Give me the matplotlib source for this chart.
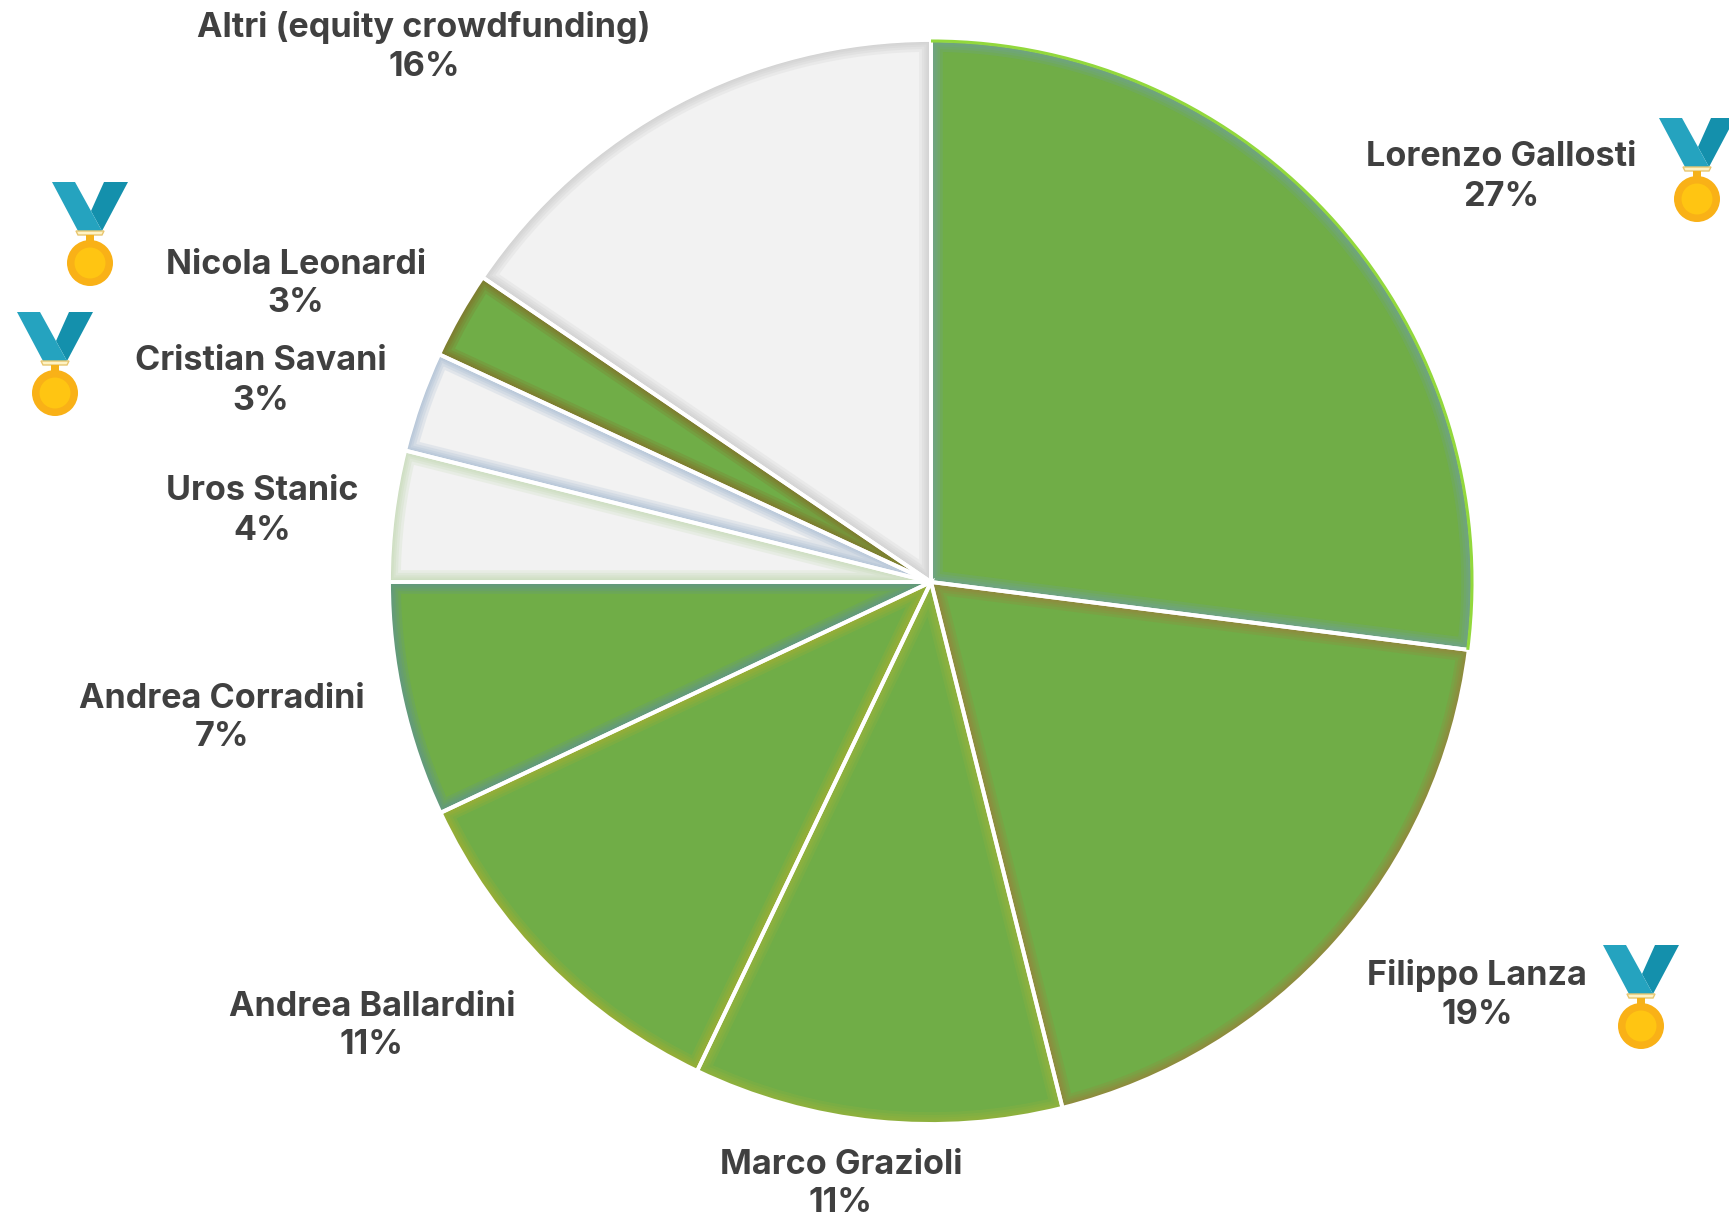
"""Shareholder pie with medal markers, laid out in reference pixel coordinates."""

import matplotlib

matplotlib.use("Agg")
import matplotlib.pyplot as plt
from matplotlib.patches import Arc, Circle, Polygon, Wedge

WIDTH, HEIGHT = 1729, 1220

NAMES = [
    "Lorenzo Gallosti",
    "Filippo Lanza",
    "Marco Grazioli",
    "Andrea Ballardini",
    "Andrea Corradini",
    "Uros Stanic",
    "Cristian Savani",
    "Nicola Leonardi",
    "Altri (equity crowdfunding)",
]
# slice sizes as measured from the angles, the printed labels round them
SHARES = [27.0, 19.1, 11.0, 10.9, 7.0, 3.9, 3.0, 2.6, 15.5]
PERCENT_LABELS = ["27%", "19%", "11%", "11%", "7%", "4%", "3%", "3%", "16%"]
FILLS = ["#70AD47", "#70AD47", "#70AD47", "#70AD47", "#70AD47",
         "#F2F2F2", "#F2F2F2", "#70AD47", "#F2F2F2"]
GLOWS = ["#6F9FB5", "#A8743A", "#A9B53A", "#B5B02E", "#5B8FA8",
         "#B5D3A0", "#8FAAC8", "#8A5A20", "#BEBEBE"]
LABEL_X = [1501, 1477, 841, 372, 222, 262, 261, 296, 424]
LABEL_Y = [177, 995, 1184, 1026, 718, 511, 381, 284, 47]

# top-left corner of each medal ribbon
MEDALS = [(52, 182), (17, 312), (1659, 118), (1603, 945)]

CENTER = (931, HEIGHT - 582)
RADIUS = 542


def py(y):
    return HEIGHT - y


def draw_medal(ax, x0, y0):
    def pts(*pairs):
        return [(x0 + a, py(y0 + b)) for a, b in pairs]

    ax.add_patch(Polygon(pts((76, 0), (52, 0), (39, 29), (50, 49)), color="#1490AC", lw=0, zorder=5))
    ax.add_patch(Polygon(pts((0, 0), (23, 0), (50, 49), (26, 49)), color="#25A3BF", lw=0, zorder=6))
    ax.add_patch(Polygon(pts((24, 49), (52, 49), (50, 53), (26, 53)), facecolor="#FFF3C4",
                         edgecolor="#E8C670", lw=1, zorder=6))
    ax.add_patch(Polygon(pts((34, 53), (42, 53), (42, 60), (34, 60)), color="#F5B21B", lw=0, zorder=6))
    cx, cy = x0 + 38, py(y0 + 81)
    ax.add_patch(Circle((cx, cy), 23, color="#F9B117", lw=0, zorder=6))
    ax.add_patch(Circle((cx, cy), 15.5, color="#FFC512", lw=0, zorder=7))


fig = plt.figure(figsize=(WIDTH / 100, HEIGHT / 100), dpi=100)
ax = fig.add_axes([0, 0, 1, 1])

wedges, _ = ax.pie(
    SHARES,
    colors=FILLS,
    startangle=90,
    counterclock=False,
    center=CENTER,
    radius=RADIUS,
    frame=True,
)
ax.set_xlim(0, WIDTH)
ax.set_ylim(0, HEIGHT)
ax.set_aspect("equal")
ax.axis("off")

# soft coloured rim inside each slice
for wedge, glow in zip(wedges, GLOWS):
    for lw in (17, 13, 9.5, 6.5, 3.5):
        rim = Wedge(wedge.center, wedge.r, wedge.theta1, wedge.theta2,
                    facecolor="none", edgecolor=glow, lw=lw, alpha=0.17, zorder=2)
        ax.add_patch(rim)
        rim.set_clip_path(wedge)

for wedge in wedges:
    ax.add_patch(Wedge(wedge.center, wedge.r, wedge.theta1, wedge.theta2,
                       facecolor="none", edgecolor="white", lw=2.8, zorder=4))

# bright arc on the largest slice
first = wedges[0]
ax.add_patch(Arc(first.center, 2 * first.r - 2, 2 * first.r - 2, theta1=first.theta1,
                 theta2=first.theta2, edgecolor="#92D83C", lw=2.2, zorder=5))

for name, pct, x, y in zip(NAMES, PERCENT_LABELS, LABEL_X, LABEL_Y):
    ax.text(x, py(y), f"{name}\n{pct}", ha="center", va="center", family="Inter",
            fontweight="bold", fontsize=24.6, color="#404040", linespacing=1.28, zorder=8)

for x0, y0 in MEDALS:
    draw_medal(ax, x0, y0)

fig.savefig("out.png", dpi=100)
